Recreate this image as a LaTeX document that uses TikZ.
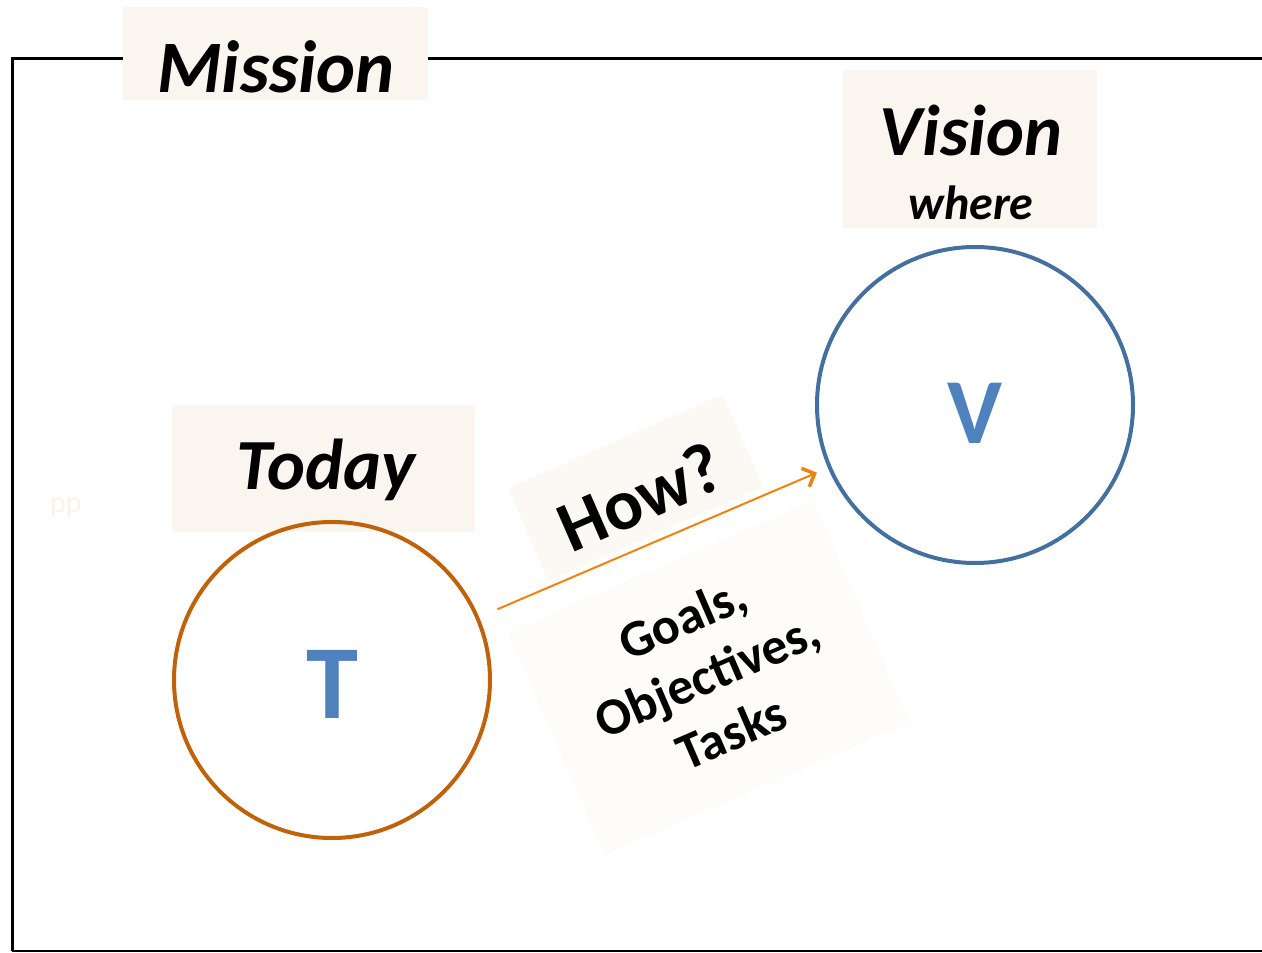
\documentclass[tikz,border=0pt]{standalone}
\usepackage{fontspec}
\setmainfont{Carlito}
\usetikzlibrary{arrows.meta}
\definecolor{boxfill}{HTML}{FAF6EF}
\definecolor{howfill}{HTML}{FCF9F4}
\definecolor{goalfill}{HTML}{FEFCF8}
\definecolor{tcirc}{HTML}{C0620A}
\definecolor{vcirc}{HTML}{4470A0}
\definecolor{letter}{HTML}{4F81BD}
\definecolor{arr}{HTML}{F0820F}
\definecolor{ppcol}{HTML}{FDF1E2}
\tikzset{
  lblbox/.style={rectangle, draw=none, fill=boxfill, inner sep=0pt},
  bigit/.style={font=\fontsize{74}{80}\selectfont\bfseries\itshape, inner sep=0pt, anchor=base},
  ring/.style={circle, minimum size=316pt, inner sep=0pt, line width=4pt, fill=none},
  frameline/.style={line width=3pt, black}
}
\begin{document}
\begin{tikzpicture}[x=1pt,y=-1pt]
\useasboundingbox (0,0) rectangle (1262,953);
% frame
\draw[frameline] (1262,58) -- (12,58) -- (12,951);
\draw[line width=2pt] (12,951) -- (1262,951);
% Mission
\node[lblbox, minimum width=305pt, minimum height=93pt] (missionbox) at (275.5,53.5) {};
\node[bigit] (mission) at (276,92) {Mission};
% Vision
\node[lblbox, minimum width=254pt, minimum height=158pt] (visionbox) at (970,149) {};
\node[bigit, font=\fontsize{72}{80}\selectfont\bfseries\itshape] (vision) at (971,155) {Vision};
\node[bigit, font=\fontsize{48}{56}\selectfont\bfseries\itshape] (where) at (971,219) {where};
% Today
\node[lblbox, minimum width=303pt, minimum height=127pt] (todaybox) at (323.5,468.5) {};
\node[bigit, font=\fontsize{72}{80}\selectfont\bfseries\itshape] (today) at (326,489) {Today};
% pp
\node[font=\fontsize{30}{34}\selectfont, text=ppcol, inner sep=0pt] (pp) at (66,508) {pp};
% How box
\node[rectangle, fill=howfill, minimum width=234.6pt, minimum height=101pt, rotate=23.6, inner sep=0pt] (howbox) at (635.5,487.5) {};
\node[font=\fontsize{72}{80}\selectfont\bfseries, rotate=23.6, inner sep=0pt] (how) at (640,497) {How?};
% Goals box
\node[rectangle, fill=goalfill, draw=goalfill!70!boxfill, minimum width=331pt, minimum height=241pt, rotate=23.4, inner sep=0pt] (goalbox) at (709,677.5) {};
\node[font=\fontsize{52}{62}\selectfont\bfseries, rotate=23.4, align=center, inner sep=0pt] (goals) at (707,675) {Goals,\\Objectives,\\Tasks};
% circles
\node[ring, draw=tcirc] (T) at (332,680) {};
\node[font=\fontsize{105}{110}\selectfont\bfseries, text=letter, inner sep=0pt, anchor=base] (tl) at (332,718) {T};
\node[ring, draw=vcirc] (V) at (975,405) {};
\node[font=\fontsize{93}{100}\selectfont\bfseries, text=letter, inner sep=0pt, anchor=base] (vl) at (975,443) {V};
% arrow
\draw[arr, line width=2pt, shorten <=20pt, shorten >=12pt, -{Straight Barb[length=10pt, width=20pt, line width=3.5pt]}] (T) -- (V);
\end{tikzpicture}
\end{document}
